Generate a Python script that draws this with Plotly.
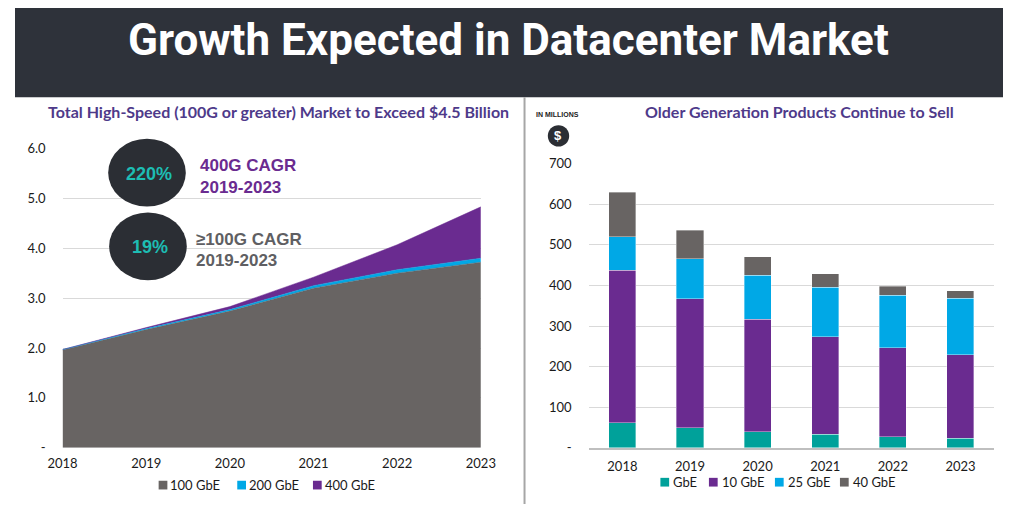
import plotly.graph_objects as go

W, H = 1018, 512

# ---------------- data ----------------
years = [2018, 2019, 2020, 2021, 2022, 2023]
hs_series = ["100 GbE", "200 GbE", "400 GbE"]
hs_100 = [1.96, 2.37, 2.74, 3.20, 3.50, 3.72]
hs_200 = [0.01, 0.02, 0.03, 0.05, 0.07, 0.08]
hs_400 = [0.00, 0.02, 0.06, 0.17, 0.50, 1.03]
left_yticks = [0, 1, 2, 3, 4, 5, 6]
left_yticklabels = ["-", "1.0", "2.0", "3.0", "4.0", "5.0", "6.0"]

old_series = ["GbE", "10 GbE", "25 GbE", "40 GbE"]
old_gbe = [62, 49, 40, 33, 27, 24]
old_10 = [376, 318, 277, 241, 220, 205]
old_25 = [82, 99, 108, 122, 129, 139]
old_40 = [109, 70, 46, 33, 22, 19]
right_yticks = [0, 100, 200, 300, 400, 500, 600, 700]
right_yticklabels = ["-", "100", "200", "300", "400", "500", "600", "700"]

cagr_values = ["220%", "19%"]
cagr_labels = [["400G CAGR", "2019-2023"], ["\u2265100G CAGR", "2019-2023"]]

# ---------------- styles ----------------
GRAY = "#686463"
BLUE = "#00a8e6"
PURPLE = "#6a2b90"
TEAL = "#00a19a"
DARK = "#2e323a"
TITLE_PURPLE = "#4e3a8a"
TICK_FONT = dict(family="Lato, Open Sans, sans-serif", size=13, color="#1a1a1a")


def px(x):
    return x / W


def py(y):
    return 1 - y / H


fig = go.Figure()

# left stacked area chart
area_vals = [hs_100, hs_200, hs_400]
area_cols = [GRAY, BLUE, PURPLE]
for name, vals, col in zip(hs_series, area_vals, area_cols):
    fig.add_trace(go.Scatter(
        x=years, y=vals, name=name, stackgroup="hs", mode="lines",
        line=dict(width=0.5, color=col), fillcolor=col,
        xaxis="x", yaxis="y", showlegend=False))

# right stacked bar chart
bar_vals = [old_gbe, old_10, old_25, old_40]
bar_cols = [TEAL, PURPLE, BLUE, GRAY]
for name, vals, col in zip(old_series, bar_vals, bar_cols):
    fig.add_trace(go.Bar(
        x=[str(y) for y in years], y=vals, name=name,
        marker=dict(color=col, line=dict(color="rgba(255,255,255,0.6)", width=0.6)),
        xaxis="x2", yaxis="y2", showlegend=False))

shapes = []
annotations = []

# header band
shapes.append(dict(type="rect", xref="paper", yref="paper", x0=0, x1=1,
                   y0=py(92), y1=1, fillcolor=DARK, line=dict(width=0), layer="below"))
annotations.append(dict(text="<b>Growth Expected in Datacenter Market</b>", xref="paper",
                        yref="paper", x=px(508), y=py(33), showarrow=False,
                        font=dict(family="Liberation Sans Narrow, Roboto, sans-serif",
                                  size=44, color="white"),
                        xanchor="center", yanchor="middle"))

# divider
shapes.append(dict(type="line", xref="paper", yref="paper", x0=px(525), x1=px(525),
                   y0=0, y1=py(92), line=dict(color="#a6a6a6", width=2)))

# subtitles
sub_font = dict(family="Lato, Open Sans, sans-serif", size=16, color=TITLE_PURPLE)
annotations.append(dict(text="<b>Total High-Speed (100G or greater) Market to Exceed $4.5 Billion</b>",
                        xref="paper", yref="paper", x=px(271), y=py(107), showarrow=False,
                        font=sub_font, xanchor="center", yanchor="middle"))
annotations.append(dict(text="<b>Older Generation Products Continue to Sell</b>",
                        xref="paper", yref="paper", x=px(808), y=py(107), showarrow=False,
                        font=sub_font, xanchor="center", yanchor="middle"))

# CAGR bubbles
circle_centers = [(136, 170), (137, 246)]
label_x = [189, 184]
label_cols = [PURPLE, "#5f5f63"]
for (cx, cy), val, lab, lx, lc in zip(circle_centers, cagr_values, cagr_labels, label_x, label_cols):
    shapes.append(dict(type="circle", xref="paper", yref="paper",
                       x0=px(cx - 40), x1=px(cx + 40), y0=py(cy + 35), y1=py(cy - 35),
                       fillcolor="#2b2e34", line=dict(width=0)))
    annotations.append(dict(text="<b>%s</b>" % val, xref="paper", yref="paper",
                            x=px(cx + 2), y=py(cy + 1), showarrow=False,
                            font=dict(family="Liberation Sans, Arial, sans-serif", size=18, color="#1dbdb3"),
                            xanchor="center", yanchor="middle"))
    for i, t in enumerate(lab):
        annotations.append(dict(text="<b>%s</b>" % t, xref="paper", yref="paper",
                                x=px(lx), y=py(cy - 7 + i * 22), showarrow=False,
                                font=dict(family="Liberation Sans, Arial, sans-serif", size=17, color=lc),
                                xanchor="left", yanchor="middle"))

# IN MILLIONS + $ badge
annotations.append(dict(text="<b>IN MILLIONS</b>", xref="paper", yref="paper", x=px(559), y=py(110),
                        showarrow=False, font=dict(family="Liberation Sans, Arial, sans-serif", size=7, color="#222"),
                        xanchor="center", yanchor="middle"))
shapes.append(dict(type="circle", xref="paper", yref="paper", x0=px(549), x1=px(571),
                   y0=py(143), y1=py(121), fillcolor="#2b2e34", line=dict(width=0)))
annotations.append(dict(text="<b>$</b>", xref="paper", yref="paper", x=px(560), y=py(132),
                        showarrow=False, font=dict(family="Liberation Sans, Arial, sans-serif", size=13, color="white"),
                        xanchor="center", yanchor="middle"))

# manual legends
leg_font = dict(family="Lato, Open Sans, sans-serif", size=13, color="#1a1a1a")
left_leg_x = [148, 229, 307]
for name, col, lx in zip(hs_series, area_cols, left_leg_x):
    shapes.append(dict(type="rect", xref="paper", yref="paper", x0=px(lx), x1=px(lx + 9),
                       y0=py(497), y1=py(488), fillcolor=col, line=dict(width=0)))
    annotations.append(dict(text=name, xref="paper", yref="paper", x=px(lx + 10), y=py(492),
                            showarrow=False, font=leg_font, xanchor="left", yanchor="middle"))
right_leg_x = [665, 715, 783, 850]
for name, col, lx in zip(old_series, bar_cols, right_leg_x):
    shapes.append(dict(type="rect", xref="paper", yref="paper", x0=px(lx), x1=px(lx + 9),
                       y0=py(494), y1=py(485), fillcolor=col, line=dict(width=0)))
    annotations.append(dict(text=name, xref="paper", yref="paper", x=px(lx + 11), y=py(489),
                            showarrow=False, font=leg_font, xanchor="left", yanchor="middle"))

fig.update_layout(
    autosize=True, margin=dict(l=0, r=0, t=0, b=0, pad=0),
    paper_bgcolor="white", plot_bgcolor="white",
    barmode="stack", bargap=0.6,
    shapes=shapes, annotations=annotations,
    xaxis=dict(domain=[px(49), px(480)], anchor="y", range=[2018, 2023],
               tickvals=years, ticktext=[str(y) for y in years], showgrid=False,
               zeroline=False, showline=False, ticks="", tickfont=TICK_FONT,
               ticklabelstandoff=6),
    yaxis=dict(domain=[py(454), py(145)], anchor="x", range=[0, 6],
               tickvals=left_yticks, ticktext=left_yticklabels, showgrid=True,
               gridcolor="#d9d9d9", gridwidth=1, zeroline=False, showline=False,
               ticks="", tickfont=TICK_FONT, ticklabelstandoff=16),
    xaxis2=dict(domain=[px(591), px(1009)], anchor="y2", showgrid=False, zeroline=False,
                showline=True, linecolor="#bfbfbf", linewidth=2, ticks="",
                tickfont=TICK_FONT, ticklabelstandoff=6),
    yaxis2=dict(domain=[py(454), py(160.7)], anchor="x2", range=[0, 700],
                tickvals=right_yticks, ticktext=right_yticklabels, showgrid=True,
                gridcolor="#d9d9d9", gridwidth=1, zeroline=False, showline=False,
                ticks="", tickfont=TICK_FONT, ticklabelstandoff=16),
)

fig.write_html(
    "out.html",
    default_width="100vw",
    default_height="100vh",
    config={"displayModeBar": False, "responsive": True},
    post_script="document.documentElement.style.margin='0';document.body.style.margin='0';"
                "document.body.style.padding='0';document.body.style.overflow='hidden';"
                "window.dispatchEvent(new Event('resize'));",
)
